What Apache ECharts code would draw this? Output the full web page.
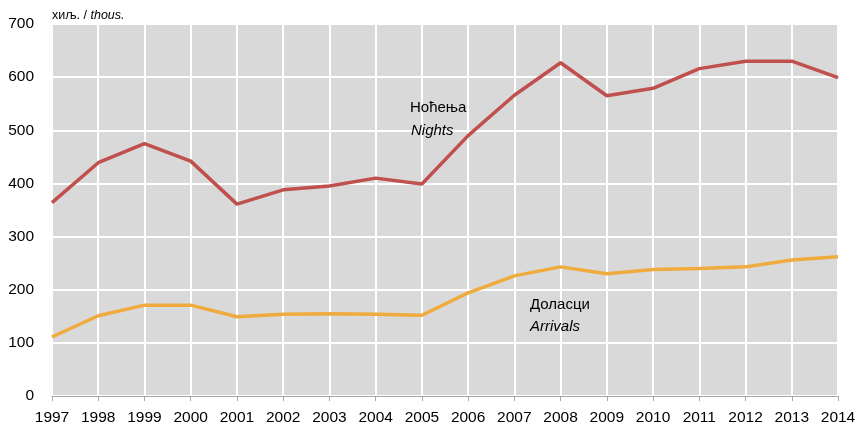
<!DOCTYPE html>
<html>
<head>
<meta charset="utf-8">
<script src="https://cdn.jsdelivr.net/npm/echarts@6/dist/echarts.min.js"></script>
<style>html,body{margin:0;padding:0;background:#fff;}#c{width:857px;height:426px;}</style>
</head>
<body>
<div id="c"></div>
<script>
var years = ['1997','1998','1999','2000','2001','2002','2003','2004','2005','2006','2007','2008','2009','2010','2011','2012','2013','2014'];
var nights = [364, 439, 475, 442, 361, 388, 395, 410, 399, 490, 566, 627, 565, 579, 616, 630, 630, 599];
var arrivals = [111, 151, 171, 171, 149, 154, 155, 154, 152, 194, 226, 243, 230, 238, 240, 243, 256, 262];
var yTicks = [0, 100, 200, 300, 400, 500, 600, 700];

var ff = 'Liberation Sans, Arial, sans-serif';

var chart = echarts.init(document.getElementById('c'), null, {renderer: 'canvas'});
chart.setOption({
  animation: false,
  backgroundColor: '#ffffff',
  title: {
    left: 52, top: 9, padding: 0,
    text: '{a|хиљ. / }{b|thous.}',
    textStyle: {
      fontWeight: 'normal',
      rich: {
        a: {fontFamily: ff, fontSize: 12.5, fontWeight: 'normal', color: '#000'},
        b: {fontFamily: ff, fontSize: 12.5, fontWeight: 'normal', fontStyle: 'italic', color: '#000'}
      }
    }
  },
  grid: {
    left: 52, right: 19, top: 24, bottom: 30,
    containLabel: false, outerBoundsMode: 'none',
    show: true, backgroundColor: '#d9d9d9', borderWidth: 0
  },
  xAxis: {
    type: 'category',
    data: years,
    boundaryGap: false,
    axisLine: {show: true, lineStyle: {color: '#a6a6a6', width: 1}},
    axisTick: {show: true, length: 5, interval: 0, lineStyle: {color: '#a6a6a6'}},
    axisLabel: {margin: 14, interval: 0, fontFamily: ff, fontSize: 15.5, color: '#000'},
    splitLine: {show: true, interval: 0, lineStyle: {color: '#ffffff', width: 2}}
  },
  yAxis: {
    type: 'value',
    min: yTicks[0], max: yTicks[yTicks.length - 1], interval: 100,
    axisLine: {show: false},
    axisTick: {show: false},
    axisLabel: {margin: 18, fontFamily: ff, fontSize: 15.5, color: '#000'},
    splitLine: {show: true, lineStyle: {color: '#ffffff', width: 2}}
  },
  series: [
    {
      name: 'Nights', type: 'line', data: nights,
      symbol: 'none', lineStyle: {color: '#c0504d', width: 3.5},
      z: 3
    },
    {
      name: 'Arrivals', type: 'line', data: arrivals,
      symbol: 'none', lineStyle: {color: '#f0ab3f', width: 3.5},
      z: 3
    }
  ],
  graphic: [
    {type: 'text', z: 100, left: 410, top: 100, style: {text: 'Ноћења', fontFamily: ff, fontSize: 15, fill: '#000'}},
    {type: 'text', z: 100, left: 411, top: 123, style: {text: 'Nights', fontFamily: ff, fontSize: 15, fontStyle: 'italic', fill: '#000'}},
    {type: 'text', z: 100, left: 530, top: 297, style: {text: 'Доласци', fontFamily: ff, fontSize: 15, fill: '#000'}},
    {type: 'text', z: 100, left: 530, top: 319, style: {text: 'Arrivals', fontFamily: ff, fontSize: 15, fontStyle: 'italic', fill: '#000'}}
  ]
});
</script>
</body>
</html>
